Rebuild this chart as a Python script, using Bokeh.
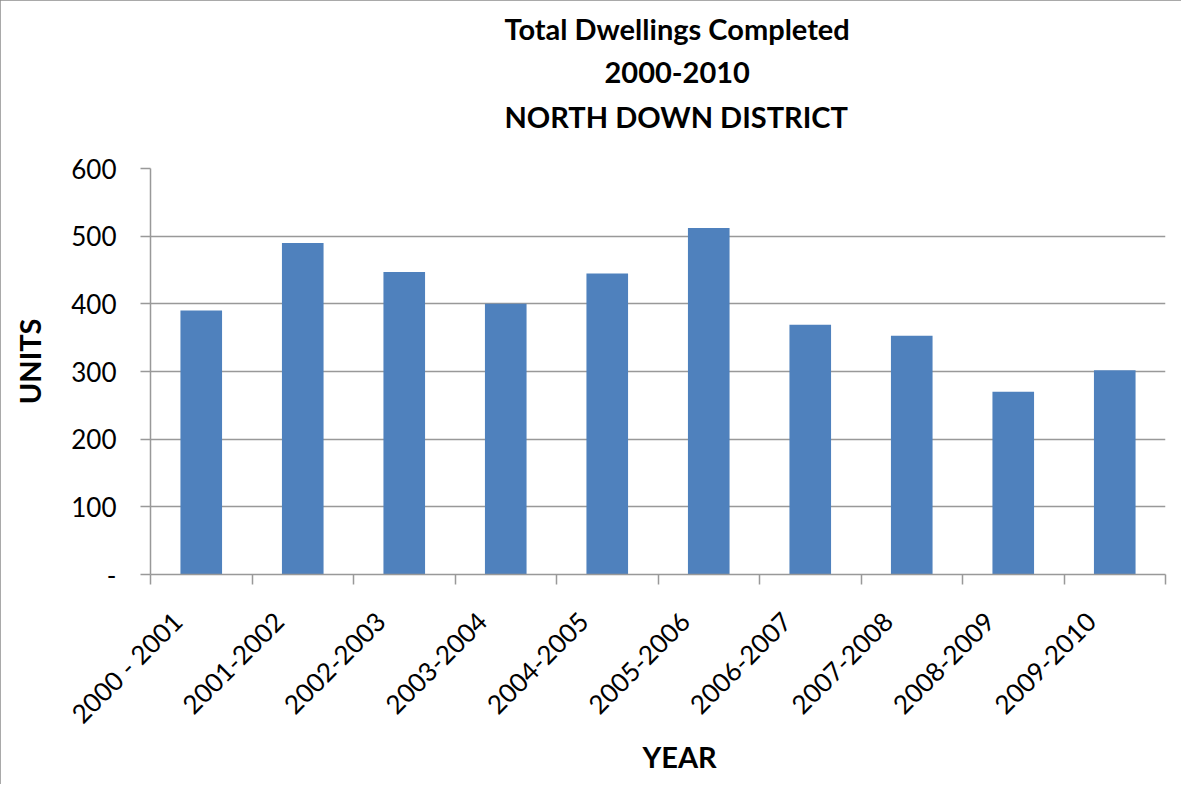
import math
from bokeh.plotting import figure
from bokeh.models import Range1d, FixedTicker, Title, InlineStyleSheet
from bokeh.embed import file_html
from bokeh.resources import INLINE

# ---- data ----
categories = ["2000 - 2001", "2001-2002", "2002-2003", "2003-2004", "2004-2005",
              "2005-2006", "2006-2007", "2007-2008", "2008-2009", "2009-2010"]
units = [390, 490, 447, 400, 445, 512, 369, 353, 270, 302]
y_ticks = [0, 100, 200, 300, 400, 500, 600]
y_tick_labels = ["-", "100", "200", "300", "400", "500", "600"]
title_lines = ["Total Dwellings Completed", "2000-2010", "NORTH DOWN DISTRICT"]
x_title = "YEAR"
y_title = "UNITS"

FONT = "Lato"
GRAY = "#999999"
BAR = "#4F81BD"
LABEL_SHIFT = 0.235   # rotated label anchor offset (Excel-like placement)

x = list(range(len(categories)))
label_ticks = [i - LABEL_SHIFT for i in x]

p = figure(width=1181, height=784,
           x_range=Range1d(-0.5, len(categories) - 0.5),
           y_range=Range1d(0, 600),
           output_backend="svg", toolbar_location=None,
           min_border_left=150, min_border_right=16,
           min_border_top=168, min_border_bottom=210)
p.outline_line_color = None
p.background_fill_color = "white"
p.border_fill_color = "white"

p.vbar(x=x, top=units, bottom=0, width=0.41, fill_color=BAR, line_color=None)

# x axis: labels near category centres, tick marks at boundaries
xa = p.xaxis[0]
xa.ticker = FixedTicker(ticks=label_ticks,
                        minor_ticks=[i - 0.5 for i in range(len(categories) + 1)])
xa.major_label_overrides = {t: c for t, c in zip(label_ticks, categories)}
xa.major_tick_out = 0
xa.major_tick_in = 0
xa.minor_tick_out = 10
xa.minor_tick_in = 0
xa.minor_tick_line_color = GRAY
xa.minor_tick_line_width = 1.5
xa.axis_line_color = GRAY
xa.axis_line_width = 1.5
xa.major_label_orientation = math.pi / 4
xa.major_label_standoff = 32
xa.major_label_text_font = FONT
xa.major_label_text_font_size = "26px"
xa.major_label_text_color = "black"
p.xgrid.visible = False

# y axis
ya = p.yaxis[0]
yt = FixedTicker(ticks=y_ticks)
ya.ticker = yt
ya.major_label_overrides = dict(zip(y_ticks, y_tick_labels))
ya.major_tick_out = 10
ya.major_tick_in = 0
ya.minor_tick_line_color = None
ya.major_tick_line_color = GRAY
ya.major_tick_line_width = 1.5
ya.axis_line_color = GRAY
ya.axis_line_width = 1.5
ya.major_label_standoff = 24
ya.major_label_text_font = FONT
ya.major_label_text_font_size = "26px"
ya.major_label_text_color = "black"
p.ygrid.ticker = yt
p.ygrid.grid_line_color = GRAY
p.ygrid.grid_line_width = 1.5

# gap between the plot area and the chart title
p.add_layout(Title(text=" ", text_font_size="2px", standoff=24), "above")
# chart title: three lines (nearest to the frame is added first)
title_offsets = [354, 454, 354]
for txt, off in reversed(list(zip(title_lines, title_offsets))):
    p.add_layout(Title(text=txt, align="left", offset=off, standoff=14,
                       text_font=FONT, text_font_style="bold",
                       text_font_size="29px", text_color="black"), "above")

p.add_layout(Title(text=x_title, align="left", offset=492, standoff=-13,
                   text_font=FONT, text_font_style="bold",
                   text_font_size="29px", text_color="black"), "below")
# gap between the y tick labels and the y axis title
p.add_layout(Title(text=" ", text_font_size="2px", standoff=18), "left")
p.add_layout(Title(text=y_title, align="right", offset=150, standoff=0,
                   text_font=FONT, text_font_style="bold",
                   text_font_size="29px", text_color="black"), "left")

p.stylesheets = [InlineStyleSheet(css=":host { outline: 2px solid #8c8c8c; outline-offset: -2px; }")]

open("out.html", "w").write(file_html(p, INLINE))
